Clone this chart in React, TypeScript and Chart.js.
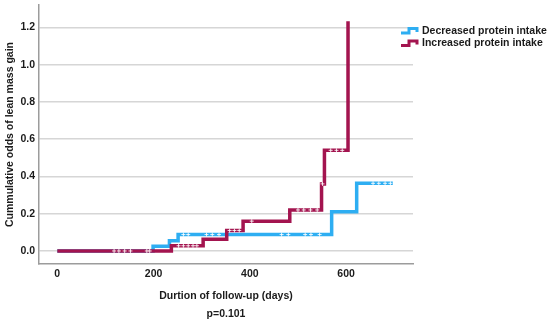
import React, { useEffect, useRef } from "react";
import { Chart, registerables } from "chart.js";

Chart.register(...registerables);

// Kaplan–Meier style cumulative odds (step at each event)
const decreasedDays = [0, 199, 233, 251, 570, 622, 697];
const decreasedOdds = [0, 0.025, 0.055, 0.088, 0.21, 0.363, 0.363];

const increasedDays = [0, 237, 303, 352, 386, 483, 549, 555, 604];
const increasedOdds = [0, 0.028, 0.063, 0.11, 0.16, 0.22, 0.36, 0.54, 1.233];

// censoring marks
const decreasedCensorDays = [262, 272, 310, 322, 336, 466, 480, 515, 527, 545, 656, 668, 681, 692];
const decreasedCensorOdds = [0.088, 0.088, 0.088, 0.088, 0.088, 0.088, 0.088, 0.088, 0.088, 0.088, 0.363, 0.363, 0.363, 0.363];
const increasedCensorDays = [118, 128, 140, 152, 186, 192, 252, 262, 272, 282, 290, 358, 368, 378, 404, 500, 512, 526, 540, 551, 568, 580, 592];
const increasedCensorOdds = [0, 0, 0, 0, 0, 0, 0.028, 0.028, 0.028, 0.028, 0.028, 0.11, 0.11, 0.11, 0.16, 0.22, 0.22, 0.22, 0.22, 0.36, 0.54, 0.54, 0.54];

const xTicks = [0, 200, 400, 600];
const yTicks = [0, 0.2, 0.4, 0.6, 0.8, 1.0, 1.2];

const seriesNames = ["Decreased protein intake", "Increased protein intake"];
const seriesColors = ["#2EAEF2", "#A3144F"];

const xTitle = ["Durtion of follow-up (days)", "p=0.101"];
const yTitle = "Cummulative odds of lean mass gain";

const FONT = "'Liberation Sans', Arial, sans-serif";
const TEXT = "#1b1b1b";

const legendPlugin = {
  id: "stepLegend",
  afterDraw(chart: any) {
    const ctx = chart.ctx;
    ctx.save();
    const x0 = 401;
    const rows = [31, 43.5];
    seriesNames.forEach((name, i) => {
      const y = rows[i];
      ctx.strokeStyle = seriesColors[i];
      ctx.lineWidth = 3;
      ctx.lineJoin = "miter";
      ctx.beginPath();
      ctx.moveTo(x0, y + 2);
      ctx.lineTo(x0 + 8, y + 2);
      ctx.lineTo(x0 + 8, y - 2.5);
      ctx.lineTo(x0 + 16, y - 2.5);
      ctx.lineTo(x0 + 16, y + 1);
      ctx.stroke();
      ctx.fillStyle = TEXT;
      ctx.font = `bold 10.5px ${FONT}`;
      ctx.textBaseline = "middle";
      ctx.textAlign = "left";
      ctx.fillText(name, 422, y);
    });
    ctx.restore();
  },
};

export default function App() {
  const ref = useRef<HTMLCanvasElement | null>(null);

  useEffect(() => {
    document.body.style.margin = "0";
    const canvas = ref.current!;
    const toPts = (xs: number[], ys: number[]) => xs.map((x, i) => ({ x, y: ys[i] }));
    const chart = new Chart(canvas, {
      type: "line",
      data: {
        datasets: [
          {
            label: seriesNames[1],
            data: toPts(increasedDays, increasedOdds),
            borderColor: seriesColors[1],
            borderWidth: 3.5,
            stepped: "before",
            pointRadius: 0,
            fill: false,
            order: 1,
          },
          {
            label: seriesNames[0],
            data: toPts(decreasedDays, decreasedOdds),
            borderColor: seriesColors[0],
            borderWidth: 3.5,
            stepped: "before",
            pointRadius: 0,
            fill: false,
            order: 2,
          },
          {
            label: "censored-inc",
            data: toPts(increasedCensorDays, increasedCensorOdds),
            showLine: false,
            pointStyle: "cross",
            pointRadius: 2,
            borderColor: "rgba(255,255,255,0.85)",
            borderWidth: 1,
            order: 0,
          },
          {
            label: "censored-dec",
            data: toPts(decreasedCensorDays, decreasedCensorOdds),
            showLine: false,
            pointStyle: "cross",
            pointRadius: 2,
            borderColor: "rgba(255,255,255,0.85)",
            borderWidth: 1,
            order: 0,
          },
        ],
      },
      options: {
        responsive: false,
        animation: false,
        layout: { padding: { top: 4, right: 137, left: 0, bottom: 0 } },
        plugins: {
          legend: { display: false },
          tooltip: { enabled: false },
        },
        scales: {
          x: {
            type: "linear",
            min: -38,
            max: 739,
            afterBuildTicks: (s: any) => {
              s.ticks = xTicks.map((v) => ({ value: v }));
            },
            afterFit: (s: any) => {
              s.height = 59;
              s.paddingLeft = 0;
              s.paddingRight = 0;
            },
            grid: { display: false, drawTicks: false },
            border: { display: true, color: "#9c9c9c", width: 1.5 },
            ticks: {
              color: TEXT,
              font: { family: FONT, size: 10.5, weight: "bold" },
              padding: 4,
              maxRotation: 0,
            },
            title: {
              display: true,
              text: xTitle,
              color: TEXT,
              font: { family: FONT, size: 10.5, weight: "bold", lineHeight: 1.72 },
              padding: { top: 0, bottom: 0 },
            },
          },
          y: {
            type: "linear",
            min: -0.07,
            max: 1.32,
            afterBuildTicks: (s: any) => {
              s.ticks = yTicks.map((v) => ({ value: v }));
            },
            afterFit: (s: any) => {
              s.width = 39;
              s.paddingTop = 0;
              s.paddingBottom = 0;
            },
            grid: { color: "#d6d6d6", lineWidth: 1.5, drawTicks: false },
            border: { display: true, color: "#9c9c9c", width: 1.5 },
            ticks: {
              color: TEXT,
              font: { family: FONT, size: 10.5, weight: "bold" },
              padding: 4,
              callback: (v: any) => Number(v).toFixed(1),
            },
            title: {
              display: true,
              text: yTitle,
              color: TEXT,
              font: { family: FONT, size: 10.5, weight: "bold" },
              padding: { top: 4, bottom: 0 },
            },
          },
        },
      },
      plugins: [legendPlugin],
    });
    return () => chart.destroy();
  }, []);

  return (
    <div style={{ position: "fixed", left: 0, top: 0, width: 550, height: 323, background: "#fff" }}>
      <canvas ref={ref} width={550} height={323} />
    </div>
  );
}
